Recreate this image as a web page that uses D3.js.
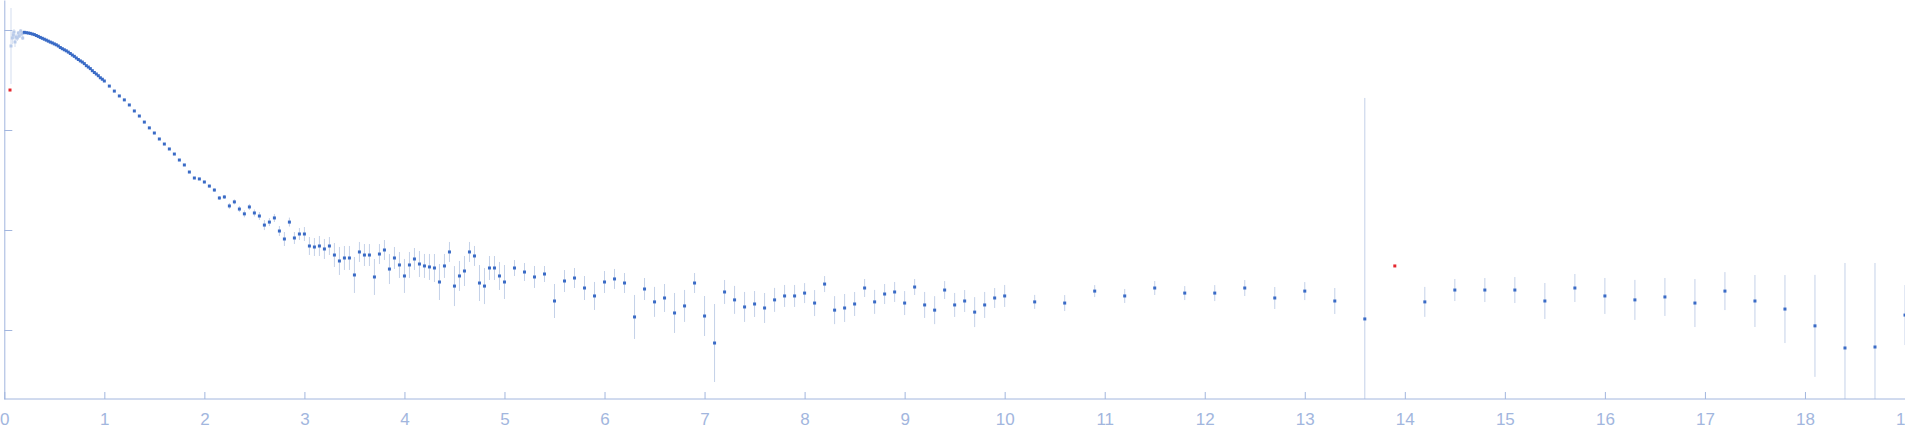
<!DOCTYPE html>
<html>
<head>
<meta charset="utf-8">
<script src="https://cdn.jsdelivr.net/npm/d3@7/dist/d3.min.js"></script>
<style>
  body { margin: 0; background: #fff; }
  svg { display: block; }
</style>
</head>
<body>
<div id="chart"></div>
<script>
// excluded low-q points (drawn pale)
var qExcluded = [0.067, 0.080, 0.090, 0.097, 0.107, 0.117, 0.130, 0.140, 0.150, 0.164, 0.174, 0.184, 0.190];
var iExcluded = [0.692, 0.832, 0.891, 0.955, 0.759, 0.851, 0.832, 0.933, 0.871, 0.977, 0.912, 0.832, 0.933];
var eExcluded = [0.38, 0.06, 0.04, 0.03, 0.05, 0.03, 0.03, 0.02, 0.02, 0.02, 0.02, 0.02, 0.02];

// outliers (red)
var qOutlier = [0.057, 13.9];
var iOutlier = [0.251, 0.00437];

// main curve: q, intensity, error (in decades)
var qMain = [
  0.20, 0.22, 0.24, 0.26, 0.28, 0.30, 0.32, 0.34, 0.36, 0.38,
  0.40, 0.42, 0.44, 0.46, 0.48, 0.50, 0.52, 0.54, 0.56, 0.58,
  0.60, 0.62, 0.64, 0.66, 0.68, 0.70, 0.72, 0.74, 0.76, 0.78,
  0.80, 0.82, 0.84, 0.86, 0.88, 0.90, 0.92, 0.94, 0.96, 0.98, 1.00,
  1.05, 1.10, 1.15, 1.20, 1.25, 1.30, 1.35, 1.40, 1.45, 1.50,
  1.55, 1.60, 1.65, 1.70, 1.75, 1.80, 1.85, 1.90, 1.95, 2.00,
  2.05, 2.10, 2.15, 2.20, 2.25, 2.30, 2.35, 2.40, 2.45, 2.50,
  2.55, 2.60, 2.65, 2.70, 2.75, 2.80, 2.85, 2.90, 2.95, 3.00,
  3.05, 3.10, 3.15, 3.20, 3.25, 3.30, 3.35, 3.40, 3.45, 3.50,
  3.55, 3.60, 3.65, 3.70, 3.75, 3.80, 3.85, 3.90, 3.95, 4.00,
  4.05, 4.10, 4.15, 4.20, 4.25, 4.30, 4.35, 4.40, 4.45, 4.50,
  4.55, 4.60, 4.65, 4.70, 4.75, 4.80, 4.85, 4.90, 4.95, 5.00,
  5.1, 5.2, 5.3, 5.4, 5.5, 5.6, 5.7, 5.8, 5.9, 6.0,
  6.1, 6.2, 6.3, 6.4, 6.5, 6.6, 6.7, 6.8, 6.9, 7.0,
  7.1, 7.2, 7.3, 7.4, 7.5, 7.6, 7.7, 7.8, 7.9, 8.0,
  8.1, 8.2, 8.3, 8.4, 8.5, 8.6, 8.7, 8.8, 8.9, 9.0,
  9.1, 9.2, 9.3, 9.4, 9.5, 9.6, 9.7, 9.8, 9.9, 10.0,
  10.3, 10.6, 10.9, 11.2, 11.5, 11.8, 12.1, 12.4, 12.7, 13.0,
  13.3, 13.6, 14.2, 14.5, 14.8, 15.1, 15.4, 15.7, 16.0, 16.3,
  16.6, 16.9, 17.2, 17.5, 17.8, 18.1, 18.4, 18.7, 19.0
];
var iMain = [
  0.948, 0.940, 0.933, 0.925, 0.912, 0.900, 0.881, 0.863, 0.843, 0.826,
  0.809, 0.792, 0.774, 0.757, 0.743, 0.726, 0.711, 0.692, 0.668, 0.650,
  0.634, 0.619, 0.601, 0.582, 0.562, 0.545, 0.525, 0.507, 0.491, 0.478,
  0.461, 0.440, 0.426, 0.411, 0.392, 0.376, 0.363, 0.349, 0.333, 0.322, 0.309,
  0.275, 0.245, 0.219, 0.200, 0.178, 0.155, 0.138, 0.120, 0.105, 0.0933,
  0.0813, 0.0724, 0.0646, 0.0575, 0.0501, 0.0447, 0.0380, 0.0331, 0.0324, 0.0302,
  0.0275, 0.0251, 0.0209, 0.0214, 0.0174, 0.0191, 0.0162, 0.0145, 0.0170, 0.0148,
  0.0138, 0.0112, 0.0120, 0.0132, 0.00977, 0.00813, 0.0120, 0.00832, 0.00912, 0.00912,
  0.00692, 0.00676, 0.00692, 0.00646, 0.00692, 0.00562, 0.00490, 0.00525, 0.00525, 0.00355,
  0.00603, 0.00562, 0.00562, 0.00339, 0.00575, 0.00631, 0.00407, 0.00525, 0.00447, 0.00347,
  0.00447, 0.00513, 0.00457, 0.00437, 0.00427, 0.00417, 0.00302, 0.00437, 0.00603, 0.00275,
  0.00347, 0.00389, 0.00603, 0.00550, 0.00295, 0.00275, 0.00417, 0.00417, 0.00347, 0.00302,
  0.00417, 0.00380, 0.00339, 0.00363, 0.00195, 0.00309, 0.00331, 0.00263, 0.00219, 0.00302,
  0.00324, 0.00295, 0.00135, 0.00257, 0.00191, 0.00209, 0.00148, 0.00174, 0.00295, 0.00138,
  0.000741, 0.00240, 0.00200, 0.00170, 0.00182, 0.00166, 0.00200, 0.00219, 0.00219, 0.00234,
  0.00186, 0.00288, 0.00158, 0.00166, 0.00182, 0.00263, 0.00191, 0.00229, 0.00240, 0.00186,
  0.00269, 0.00178, 0.00158, 0.00251, 0.00178, 0.00195, 0.00151, 0.00178, 0.00209, 0.00219,
  0.00191, 0.00186, 0.00245, 0.00219, 0.00263, 0.00234, 0.00234, 0.00263, 0.00209, 0.00245,
  0.00195, 0.00129, 0.00191, 0.00251, 0.00251, 0.00251, 0.00195, 0.00263, 0.00219, 0.00200,
  0.00214, 0.00186, 0.00245, 0.00195, 0.00162, 0.00110, 0.000661, 0.000676, 0.00141
];
var eMain = [
  0.003, 0.003, 0.003, 0.003, 0.003, 0.003, 0.003, 0.003, 0.003, 0.003,
  0.003, 0.003, 0.003, 0.003, 0.003, 0.003, 0.003, 0.003, 0.003, 0.003,
  0.003, 0.003, 0.003, 0.003, 0.003, 0.003, 0.003, 0.003, 0.003, 0.003,
  0.003, 0.003, 0.003, 0.003, 0.003, 0.003, 0.003, 0.003, 0.003, 0.003, 0.003,
  0.004, 0.004, 0.004, 0.004, 0.004, 0.004, 0.004, 0.004, 0.004, 0.004,
  0.005, 0.005, 0.006, 0.006, 0.007, 0.008, 0.009, 0.010, 0.012, 0.012,
  0.014, 0.016, 0.020, 0.020, 0.030, 0.025, 0.030, 0.035, 0.030, 0.035,
  0.04, 0.05, 0.04, 0.04, 0.05, 0.07, 0.045, 0.06, 0.06, 0.07,
  0.09, 0.09, 0.10, 0.10, 0.09, 0.12, 0.14, 0.12, 0.12, 0.18,
  0.10, 0.11, 0.11, 0.18, 0.10, 0.10, 0.15, 0.11, 0.13, 0.17,
  0.13, 0.11, 0.13, 0.12, 0.13, 0.14, 0.18, 0.12, 0.10, 0.20,
  0.15, 0.15, 0.10, 0.10, 0.18, 0.18, 0.12, 0.12, 0.14, 0.17,
  0.08, 0.09, 0.11, 0.08, 0.17, 0.11, 0.10, 0.12, 0.14, 0.11,
  0.10, 0.10, 0.22, 0.11, 0.15, 0.14, 0.20, 0.16, 0.10, 0.20,
  0.39, 0.12, 0.14, 0.15, 0.13, 0.15, 0.12, 0.11, 0.11, 0.10,
  0.13, 0.08, 0.14, 0.14, 0.12, 0.09, 0.12, 0.10, 0.10, 0.12,
  0.08, 0.13, 0.14, 0.09, 0.12, 0.11, 0.15, 0.13, 0.10, 0.11,
  0.07, 0.08, 0.06, 0.07, 0.07, 0.07, 0.08, 0.08, 0.11, 0.09,
  0.13, 2.21, 0.15, 0.11, 0.12, 0.13, 0.18, 0.14, 0.18, 0.20,
  0.19, 0.24, 0.19, 0.26, 0.34, 0.51, 0.85, 0.84, 0.30
];

var xTicks = [0, 1, 2, 3, 4, 5, 6, 7, 8, 9, 10, 11, 12, 13, 14, 15, 16, 17, 18, 19];
var yTicks = [1, 0.1, 0.01, 0.001];

var width = 1905, height = 437;
var left = 4.3, bottom = 399;
var axisColor = '#a2b6de';

var toRows = function(qs, is, es) {
  return qs.map(function(q, k) {
    return {q: q, i: is[k], e: es ? es[k] : 0};
  });
};
var excluded = toRows(qExcluded, iExcluded, eExcluded),
    outliers = toRows(qOutlier, iOutlier),
    main = toRows(qMain, iMain, eMain);

var x = d3.scaleLinear().domain([0, 19]).range([left, width]);
var y = d3.scaleLog().domain([Math.pow(10, -3.69), Math.pow(10, 0.3)]).range([bottom, 0]);

var svg = d3.select('#chart')
    .append('svg')
    .attr('width', width)
    .attr('height', height);

svg.append('clipPath')
    .attr('id', 'plot-clip')
  .append('rect')
    .attr('x', left)
    .attr('y', 0)
    .attr('width', width - left)
    .attr('height', bottom);

var plot = svg.append('g').attr('clip-path', 'url(#plot-clip)');

function errorBars(rows, color) {
  plot.append('g')
    .selectAll('line')
    .data(rows.filter(function(d) { return d.e > 0; }))
    .enter().append('line')
      .attr('x1', function(d) { return x(d.q); })
      .attr('x2', function(d) { return x(d.q); })
      .attr('y1', function(d) { return y(d.i * Math.pow(10, d.e)); })
      .attr('y2', function(d) { return Math.min(bottom, y(d.i / Math.pow(10, d.e))); })
      .attr('stroke', color)
      .attr('stroke-width', 1);
}

function markers(rows, color, s) {
  plot.append('g')
    .selectAll('rect')
    .data(rows)
    .enter().append('rect')
      .attr('x', function(d) { return x(d.q) - s / 2; })
      .attr('y', function(d) { return y(d.i) - s / 2; })
      .attr('width', s)
      .attr('height', s)
      .attr('fill', color);
}

errorBars(excluded, '#d3ddef');
errorBars(main, '#c4d1e8');
markers(excluded, '#b9cbea', 3);
markers(main, '#3a6bc6', 3);
markers(outliers, '#e5262e', 3);

// axes
var xAxis = svg.append('g')
    .attr('transform', 'translate(0,' + bottom + ')')
    .call(d3.axisBottom(x)
      .tickValues(xTicks)
      .tickFormat(d3.format('d'))
      .tickSizeInner(-7)
      .tickSizeOuter(0)
      .tickPadding(14));

var yAxis = svg.append('g')
    .attr('transform', 'translate(' + left + ',0)')
    .call(d3.axisLeft(y)
      .tickValues(yTicks)
      .tickFormat('')
      .tickSizeInner(-8)
      .tickSizeOuter(0));

[xAxis, yAxis].forEach(function(g) {
  g.select('.domain').attr('stroke', axisColor);
  g.selectAll('.tick line').attr('stroke', axisColor);
  g.selectAll('.tick text')
    .attr('fill', axisColor)
    .style('font-family', '"Liberation Sans", Arial, sans-serif')
    .style('font-size', '17px');
});
xAxis.select('.domain').attr('d', 'M' + left + ',0H' + width);
</script>
</body>
</html>
